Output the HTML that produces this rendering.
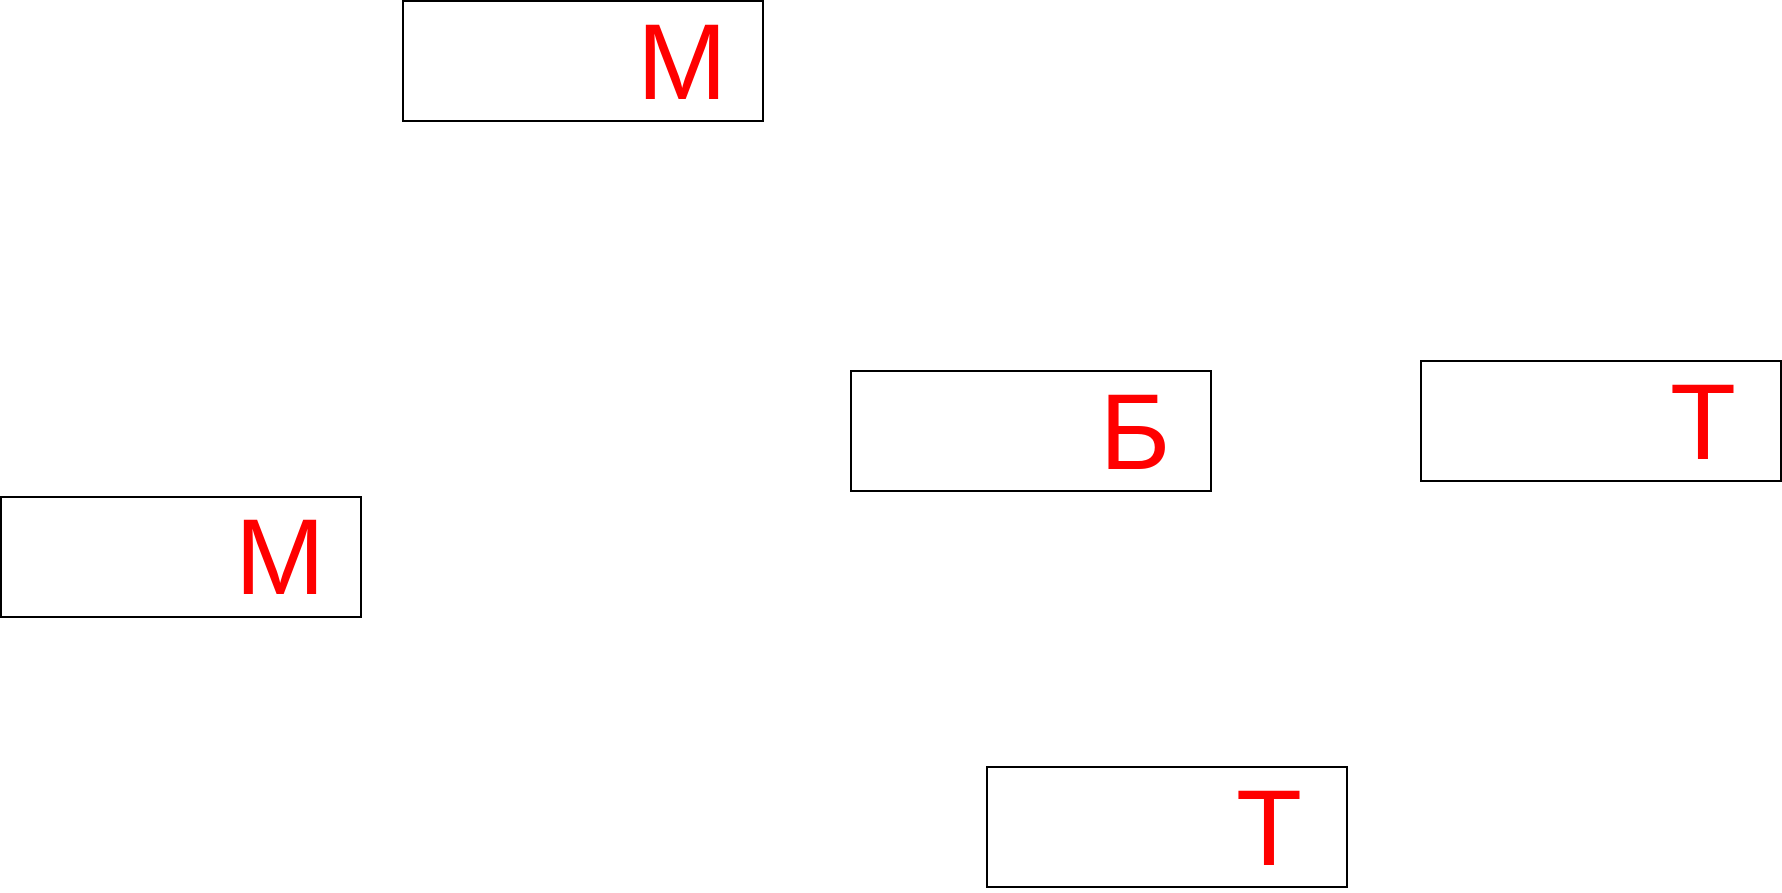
<!DOCTYPE html>
<html><head><style>html,body{margin:0;padding:0;background:#fff;width:1782px;height:893px;overflow:hidden}</style></head>
<body>
<svg width="1782" height="893" xmlns="http://www.w3.org/2000/svg">
<g fill="none" stroke="#000" stroke-width="2">
<rect x="403" y="1" width="360" height="120"/>
<rect x="851" y="371" width="360" height="120"/>
<rect x="1421" y="361" width="360" height="120"/>
<rect x="1" y="497" width="360" height="120"/>
<rect x="987" y="767" width="360" height="120"/>
</g>
<g fill="#ff0000" font-family="Liberation Sans, DejaVu Sans, sans-serif" font-size="108" text-anchor="middle">
<text x="682" y="99">М</text>
<text x="1135" y="469">Б</text>
<text x="1703" y="459">Т</text>
<text x="280" y="594">М</text>
<text x="1269" y="865">Т</text>
</g>
</svg>
</body></html>
